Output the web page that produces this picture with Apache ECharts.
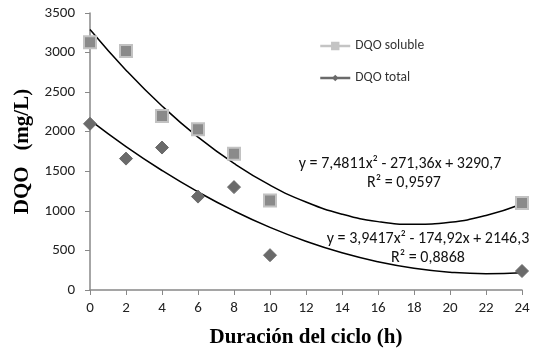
<!DOCTYPE html>
<html>
<head>
<meta charset="utf-8">
<script src="https://cdn.jsdelivr.net/npm/echarts@6/dist/echarts.min.js"></script>
<style>
  html, body { margin: 0; padding: 0; background: #fff; }
</style>
</head>
<body>
<div id="chart" style="width: 534px; height: 354px"></div>
<script>
// horas del ciclo medidas
const horas = [0, 2, 4, 6, 8, 10, 24];
const dqoSoluble = [3130, 3020, 2200, 2030, 1720, 1130, 1100];
const dqoTotal = [2100, 1660, 1800, 1180, 1300, 440, 240];

// curvas de tendencia
const horasCurva = [0, 2, 4, 6, 8, 10, 12, 14, 16, 18, 20, 22, 24];
const curvaSoluble = [3291, 2778, 2325, 1932, 1599, 1325, 1112, 958, 864, 830, 856, 942, 1087];
const curvaTotal = [2146, 1812, 1510, 1239, 999, 791, 615, 470, 357, 275, 225, 206, 219];

const ecSoluble = ["y = 7,4811x² - 271,36x + 3290,7", "R² = 0,9597"];
const ecTotal = ["y = 3,9417x² - 174,92x + 2146,3", "R² = 0,8868"];

const pares = (xs, ys) => xs.map((x, i) => [x, ys[i]]);

const chart = echarts.init(document.getElementById("chart"));

const sans = "Carlito, 'Open Sans', sans-serif";
const serif = "'Liberation Serif', 'DejaVu Serif', serif";

chart.setOption({
  animation: false,
  grid: { left: 90, right: 12, top: 13, bottom: 64 },
  legend: {
    orient: "vertical",
    left: 314,
    top: 34,
    itemGap: 18,
    itemWidth: 30,
    itemHeight: 8,
    textStyle: { fontFamily: sans, fontSize: 13.5, color: "#333" },
    data: [
      {
        name: "DQO soluble",
        lineStyle: { width: 2.5, color: "#c4c4c4" },
        itemStyle: { color: "#c4c4c4", borderColor: "#c4c4c4" },
      },
      {
        name: "DQO total",
        lineStyle: { width: 2.5, color: "#6a6a6a" },
        itemStyle: { color: "#6a6a6a", borderColor: "#6a6a6a" },
      },
    ],
  },
  xAxis: {
    type: "value",
    min: 0,
    max: 24,
    interval: 2,
    name: "Duración del ciclo (h)",
    nameLocation: "middle",
    nameGap: 37,
    nameTextStyle: { fontFamily: serif, fontWeight: "bold", fontSize: 21, color: "#000" },
    axisLine: { lineStyle: { color: "#888", width: 1.5 } },
    axisTick: { show: true, length: 5, lineStyle: { color: "#888" } },
    axisLabel: { fontFamily: sans, fontSize: 15, color: "#222", margin: 11 },
    splitLine: { show: false },
  },
  yAxis: {
    type: "value",
    min: 0,
    max: 3500,
    interval: 500,
    name: "DQO   (mg/L)",
    nameLocation: "middle",
    nameGap: 57,
    nameTextStyle: { fontFamily: serif, fontWeight: "bold", fontSize: 21, color: "#000" },
    axisLine: { show: true, lineStyle: { color: "#888", width: 1.5 } },
    axisTick: { show: true, length: 5, lineStyle: { color: "#888" } },
    axisLabel: {
      fontFamily: sans,
      fontSize: 15,
      color: "#222",
      margin: 15,
      formatter: (v) => String(v),
    },
    splitLine: { show: false },
  },
  series: [
    {
      name: "DQO soluble",
      type: "line",
      data: pares(horas, dqoSoluble),
      lineStyle: { width: 0 },
      symbol: "rect",
      symbolSize: 12,
      itemStyle: { color: "#8a8a8a", borderColor: "#c2c2c2", borderWidth: 2 },
      z: 3,
    },
    {
      name: "DQO total",
      type: "line",
      data: pares(horas, dqoTotal),
      lineStyle: { width: 0 },
      symbol: "diamond",
      symbolSize: 13,
      itemStyle: { color: "#6a6a6a", borderColor: "#6a6a6a" },
      z: 3,
    },
    {
      name: "tendencia soluble",
      type: "line",
      smooth: true,
      showSymbol: false,
      data: pares(horasCurva, curvaSoluble),
      lineStyle: { color: "#000", width: 1.5 },
      z: 2,
    },
    {
      name: "tendencia total",
      type: "line",
      smooth: true,
      showSymbol: false,
      data: pares(horasCurva, curvaTotal),
      lineStyle: { color: "#000", width: 1.5 },
      z: 2,
    },
  ],
  graphic: [
    { type: "text", x: 400, y: 164, style: { text: ecSoluble[0], font: "16px " + sans, fill: "#111", textAlign: "center", textVerticalAlign: "middle" } },
    { type: "text", x: 404, y: 183, style: { text: ecSoluble[1], font: "16px " + sans, fill: "#111", textAlign: "center", textVerticalAlign: "middle" } },
    { type: "text", x: 428, y: 239, style: { text: ecTotal[0], font: "16px " + sans, fill: "#111", textAlign: "center", textVerticalAlign: "middle" } },
    { type: "text", x: 428, y: 258, style: { text: ecTotal[1], font: "16px " + sans, fill: "#111", textAlign: "center", textVerticalAlign: "middle" } },
  ],
});
</script>
</body>
</html>
